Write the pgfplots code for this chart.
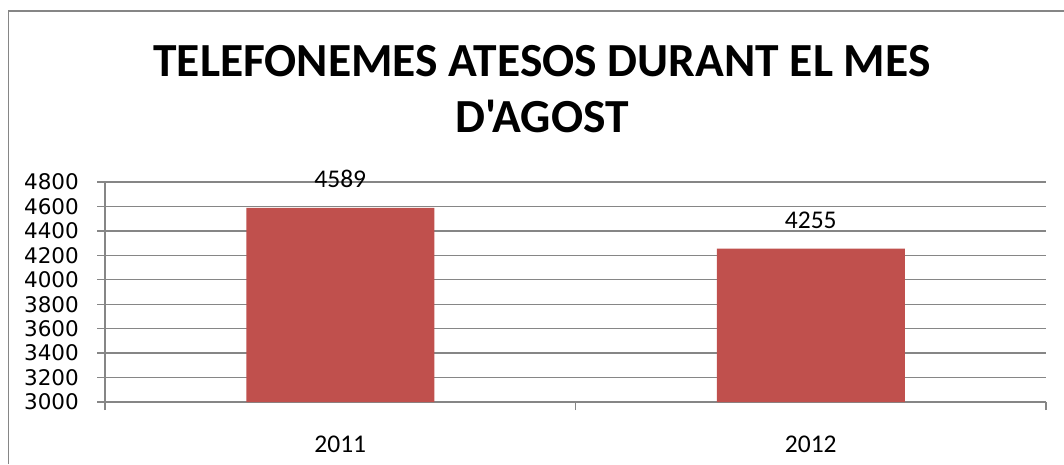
\documentclass[border=0pt]{standalone}
\usepackage{pgfplots}
\pgfplotsset{compat=1.18}
\usepackage{fontspec}
\setmainfont{Carlito}
\newfontfamily\titlefont{Carlito}[Ligatures=TeXOff]
\newfontfamily\dejavu{DejaVu Sans}
\definecolor{barred}{HTML}{C0504D}
\definecolor{gridgray}{HTML}{868686}

\begin{document}
\begin{tikzpicture}
\path[use as bounding box] (0,0) rectangle (1064pt,464pt);
\fill[white] (0,0) rectangle (1064pt,464pt);
% outer chart frame (only top and left edges are visible)
\draw[gridgray, line width=1.5pt] (8.5pt,0) -- (8.5pt,453pt) -- (1064pt,453pt);

% title
\node[anchor=base, font=\titlefont\bfseries\fontsize{47.5}{52}\selectfont] at (542pt,387pt) {TELEFONEMES ATESOS DURANT EL MES};
\node[anchor=base, font=\titlefont\bfseries\fontsize{47.5}{52}\selectfont] at (542pt,331pt) {D'AGOST};

\begin{axis}[
    at={(105pt,62pt)}, anchor=south west,
    scale only axis,
    width=941pt, height=220pt,
    xmin=0.5, xmax=2.5,
    ymin=3000, ymax=4800,
    ytick distance=200,
    xtick={0.5,1.5,2.5},
    xticklabels={},
    extra x ticks={1,2},
    extra x tick labels={2011,2012},
    extra x tick style={major tick length=0pt, grid=none},
    axis x line=bottom, axis y line=left,
    axis line style={gridgray, line width=1.4pt, -},
    tick align=outside,
    major tick length=8pt,
    tick style={gridgray, line width=1.4pt},
    ymajorgrids=true,
    grid style={gridgray, line width=1.4pt},
    /pgf/number format/1000 sep={},
    /pgf/number format/assume math mode=true,
    yticklabel style={font=\dejavu\fontsize{21.5}{24}\selectfont, inner sep=0pt, anchor=east, xshift=-18pt},
    xticklabel style={font=\fontsize{25.5}{30}\selectfont, inner sep=0pt, anchor=base, yshift=-50pt},
    ybar, bar width=188pt,
    nodes near coords,
    every node near coord/.append style={font=\fontsize{25.5}{30}\selectfont, inner sep=0pt, anchor=base, yshift=20pt, black},
]
\addplot[fill=barred, draw=none] coordinates {(1,4589) (2,4255)};
\end{axis}
\end{tikzpicture}
\end{document}
